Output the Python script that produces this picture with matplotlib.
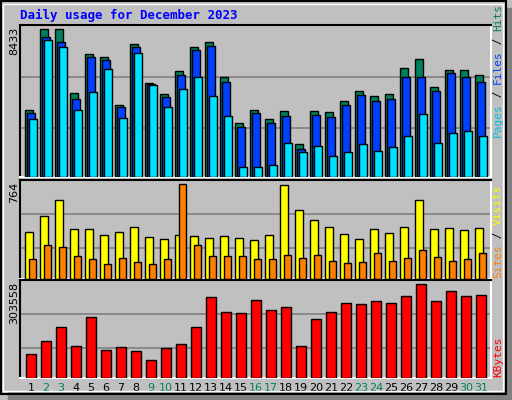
import numpy as np
import matplotlib
matplotlib.use("Agg")
from matplotlib import pyplot as plt
from matplotlib.patches import Rectangle

# Daily usage for December 2023 (webalizer style)
days = list(range(1, 32))
weekend = [2, 3, 9, 10, 16, 17, 23, 24, 30, 31]
hits = [3854, 8433, 8433, 4770, 7000, 6830, 4140, 7574, 5342, 4712, 6029, 7400, 7690, 5685, 3110, 3854,
        3339, 3797, 1908, 3797, 3739, 4369, 4884, 4598, 4712, 6200, 6716, 5113, 6086, 6086, 5800]
files = [3683, 7975, 7690, 4483, 6830, 6658, 4025, 7400, 5284, 4579, 5800, 7230, 7460, 5399, 2881, 3683,
         3110, 3510, 1622, 3567, 3453, 4140, 4655, 4312, 4483, 5685, 5685, 4884, 5914, 5685, 5399]
pages = [3300, 7800, 7400, 3854, 4827, 6143, 3396, 7060, 5250, 4025, 5000, 5685, 4598, 3510, 591, 591,
         706, 1965, 1450, 1793, 1221, 1450, 1908, 1507, 1736, 2314, 3625, 1965, 2537, 2652, 2314]
visits = [382, 507, 639, 407, 407, 357, 382, 424, 340, 324, 357, 349, 332, 349, 332, 316,
          357, 756, 556, 473, 424, 365, 324, 407, 374, 424, 639, 407, 415, 399, 415]
sites = [158, 274, 257, 183, 158, 125, 166, 141, 125, 158, 764, 274, 183, 183, 183, 158,
         158, 191, 166, 191, 149, 133, 141, 208, 149, 166, 233, 174, 149, 158, 208]
kbytes = [77550, 120760, 163970, 104140, 197200, 90850, 100820, 87520, 57610, 97490, 110790, 163970,
          260350, 213820, 210500, 253700, 220470, 230440, 104140, 190550, 213820, 243730, 240410,
          250380, 243730, 263670, 303558, 250380, 280290, 263670, 267000]

BG = "#c0c0c0"
W, H = 512, 400
fig = plt.figure(figsize=(5.12, 4.0), dpi=100, facecolor=BG)

# outer frame: shadow, black border, white bevel
fig.patches.append(Rectangle((8 / W, 0), 1 - 8 / W, 8 / H, transform=fig.transFigure, color="#808080", zorder=0))
fig.patches.append(Rectangle((1 - 6 / W, 0), 6 / W, 1 - 8 / H, transform=fig.transFigure, color="#808080", zorder=0))
fig.patches.append(Rectangle((0.5 / W, 6 / H), 1 - 7 / W, 1 - 6.5 / H, transform=fig.transFigure,
                             fill=False, ec="black", lw=1.5, zorder=1))
fig.patches.append(Rectangle((3 / W, 9 / H), 1 - 12 / W, 1 - 13 / H, transform=fig.transFigure,
                             fill=False, ec="white", lw=1, zorder=1))

fig.text(20 / W, 1 - 15 / H, "Daily usage for December 2023", color="#0000ff", fontsize=9,
         family="DejaVu Sans Mono", weight="bold", va="center", ha="left")


def panel(top, bottom):
    ax = fig.add_axes([20 / W, 1 - bottom / H, 471 / W, (bottom - top) / H])
    ax.set_facecolor(BG)
    ax.set_xlim(1 - 11 / 15, 1 + 460 / 15)
    for s in ("top", "left"):
        ax.spines[s].set_color("black")
    for s in ("bottom", "right"):
        ax.spines[s].set_color("white")
    for s in ax.spines.values():
        s.set_linewidth(1.5)
    ax.set_xticks([])
    ax.set_yticks([])
    return ax


x = np.array(days, dtype=float)
px = 1 / 15
kw = dict(edgecolor="black", linewidth=1, zorder=3)

ax1 = panel(25, 177)
ax1.set_ylim(0, max(hits) * 455 / 442)
for f in (0.325, 0.659):
    ax1.axhline(max(hits) * 455 / 442 * f, color="#808080", lw=1.2, zorder=1)
ax1.bar(x - 2 * px, hits, width=8 * px, color="#00805c", **kw)
ax1.bar(x, files, width=8 * px, color="#0040ff", **kw)
ax1.bar(x + 2 * px, pages, width=8 * px, color="#00e0ff", **kw)

ax2 = panel(180, 279)
top2 = max(sites) * 289 / 276
ax2.set_ylim(0, top2)
for f in (0.311, 0.654):
    ax2.axhline(top2 * f, color="#808080", lw=1.2, zorder=1)
ax2.bar(x - 2 * px, visits, width=8 * px, color="#ffff00", **kw)
ax2.bar(x + 1.5 * px, sites, width=7 * px, color="#ff8000", **kw)

ax3 = panel(280, 378)
top3 = max(kbytes) * 286 / 274
ax3.set_ylim(0, top3)
for f in (0.308, 0.654):
    ax3.axhline(top3 * f, color="#808080", lw=1.2, zorder=1)
ax3.bar(x, kbytes, width=10 * px, color="#ff0000", **kw)

for d in days:
    ax3.text(d, -5 / 98 * top3 * 1.0, str(d), ha="center", va="top", fontsize=8,
             color="#00805c" if d in weekend else "black", clip_on=False)

# max value labels on the left
for label, y in (("8433", 27), ("764", 182), ("303558", 282)):
    fig.text(14 / W, 1 - y / H, label, rotation=90, ha="center", va="top", fontsize=8)

# coloured legends on the right, written bottom-to-top
def legend(parts, ybottom):
    y = ybottom
    for txt, col in parts:
        fig.text(498 / W, 1 - y / H, txt, rotation=90, ha="center", va="bottom", color=col,
                 fontsize=8, family="DejaVu Sans Mono")
        y -= 6.6 * len(txt)


legend([("Pages", "#00c0e0"), (" / ", "black"), ("Files", "#0040ff"), (" / ", "black"),
        ("Hits", "#00805c")], 137)
legend([("Sites", "#ff8000"), (" / ", "black"), ("Visits", "#ffff00")], 278)
legend([("KBytes", "#ff0000")], 377)

fig.savefig("out.png", dpi=100, facecolor=BG)
